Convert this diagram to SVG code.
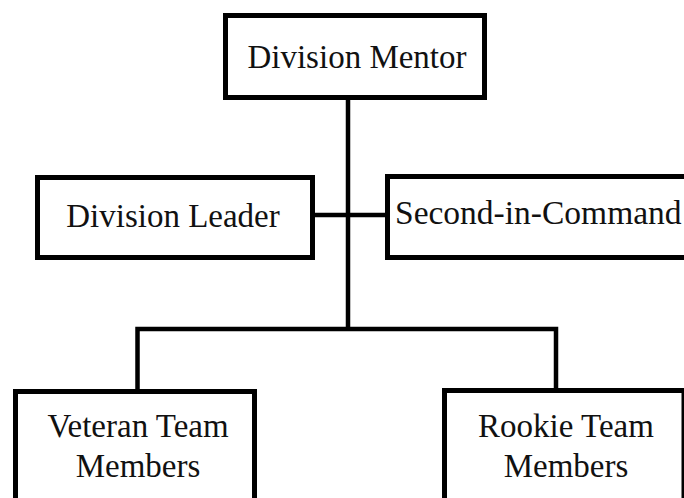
<svg xmlns="http://www.w3.org/2000/svg" width="684" height="498" viewBox="0 0 684 498">
<style>
.box{fill:#fff;stroke:#000;stroke-width:5}
.lbl{font-family:"Liberation Serif","DejaVu Serif",serif;font-size:33px;fill:#111;text-anchor:middle}
.conn{fill:none;stroke:#000;stroke-width:4.5}
</style>
<rect width="684" height="498" fill="#fff"/>
<g id="connectors">
<path class="conn" d="M348 98 V329"/>
<path class="conn" d="M313 215 H388"/>
<path class="conn" d="M137.5 391 V329 H556 V390" stroke-linejoin="miter"/>
</g>
<g id="mentor">
<rect class="box" x="225.5" y="15.5" width="259" height="82"/>
<text class="lbl" x="357" y="68">Division Mentor</text>
</g>
<g id="leader">
<rect class="box" x="37.5" y="177.5" width="275" height="80"/>
<text class="lbl" x="173" y="227">Division Leader</text>
</g>
<g id="second">
<rect class="box" x="387.5" y="176.5" width="320" height="81"/>
<text class="lbl" x="395" y="224" style="text-anchor:start;font-size:33.5px">Second-in-Command</text>
</g>
<g id="veteran">
<rect class="box" x="15.5" y="391.5" width="239" height="130"/>
<text class="lbl" x="138" y="437">Veteran Team</text>
<text class="lbl" x="138" y="477">Members</text>
</g>
<g id="rookie">
<rect class="box" x="444.5" y="390.5" width="239.5" height="130"/>
<text class="lbl" x="566" y="437">Rookie Team</text>
<text class="lbl" x="566" y="477">Members</text>
</g>
</svg>
